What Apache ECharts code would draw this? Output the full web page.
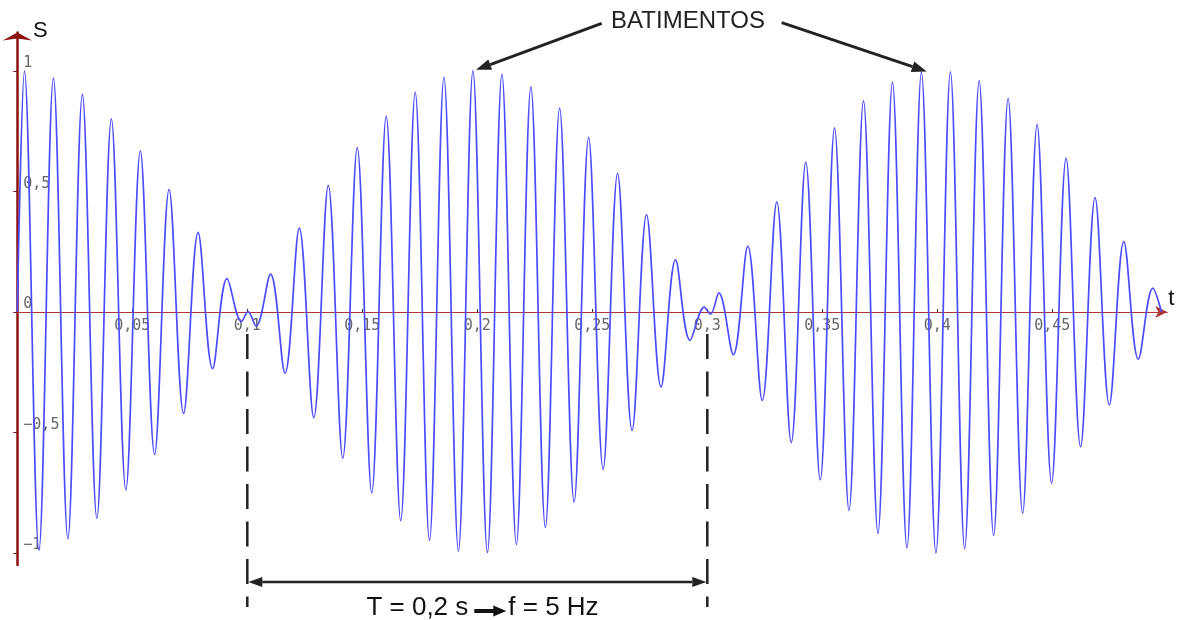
<!DOCTYPE html>
<html><head><meta charset="utf-8">
<script src="https://cdn.jsdelivr.net/npm/echarts@6/dist/echarts.min.js"></script>
<style>html,body{margin:0;padding:0;background:#fff}#c{width:1179px;height:620px}</style>
</head><body><div id="c"></div>
<script>
// extrema of the beat signal (t in s, S)
const times = [0, 0.0031, 0.0094, 0.0157, 0.0220, 0.0283, 0.0346, 0.0409, 0.0472, 0.0535, 0.0597, 0.0660, 0.0723, 0.0786, 0.0849, 0.0912, 0.0975, 0.1003, 0.1038, 0.1101, 0.1164, 0.1226, 0.1289, 0.1352, 0.1415, 0.1478, 0.1541, 0.1604, 0.1667, 0.1730, 0.1792, 0.1855, 0.1918, 0.1981, 0.2044, 0.2107, 0.2170, 0.2233, 0.2296, 0.2358, 0.2421, 0.2484, 0.2547, 0.2610, 0.2673, 0.2736, 0.2799, 0.2862, 0.2925, 0.2987, 0.3014, 0.3050, 0.3113, 0.3176, 0.3239, 0.3302, 0.3365, 0.3428, 0.3491, 0.3553, 0.3616, 0.3679, 0.3742, 0.3805, 0.3868, 0.3931, 0.3994, 0.4057, 0.4119, 0.4182, 0.4245, 0.4308, 0.4371, 0.4434, 0.4497, 0.4560, 0.4623, 0.4686, 0.4748, 0.4811, 0.4874, 0.4937, 0.4975];
const signal = [0, 0.999, -0.989, 0.970, -0.941, 0.903, -0.856, 0.801, -0.738, 0.668, -0.591, 0.509, -0.421, 0.330, -0.235, 0.138, -0.040, 0.001, -0.059, 0.157, -0.254, 0.348, -0.439, 0.525, -0.607, 0.682, -0.751, 0.813, -0.866, 0.911, -0.947, 0.974, -0.992, 1.000, -0.998, 0.986, -0.965, 0.934, -0.894, 0.846, -0.789, 0.724, -0.653, 0.575, -0.492, 0.403, -0.311, 0.216, -0.118, 0.020, -0.009, 0.079, -0.177, 0.273, -0.367, 0.457, -0.542, 0.622, -0.697, 0.764, -0.824, 0.876, -0.919, 0.954, -0.979, 0.994, -1.000, 0.996, -0.982, 0.959, -0.927, 0.885, -0.835, 0.777, -0.711, 0.638, -0.559, 0.474, -0.385, 0.292, -0.196, 0.099, 0];

const xTickValues = [0.05, 0.1, 0.15, 0.2, 0.25, 0.3, 0.35, 0.4, 0.45];
const xTickLabels = ['0,05', '0,1', '0,15', '0,2', '0,25', '0,3', '0,35', '0,4', '0,45'];
const yTickValues = [-1, -0.5, 0, 0.5, 1];
const yTickLabels = ['\u22121', '\u22120,5', '0', '0,5', '1'];

const beatNodes = [0.1, 0.3];
const arrowTargets = [[0.1995, 1.005], [0.3954, 0.998]];
const titleText = 'BATIMENTOS';
const periodText = 'T = 0,2 s';
const freqText = 'f = 5 Hz';
const yName = 'S';
const xName = 't';

function lookup(vals, labels, v) {
  const i = vals.findIndex(x => Math.abs(x - v) < 1e-9);
  return i >= 0 ? labels[i] : '';
}

const chart = echarts.init(document.getElementById('c'), null, {renderer: 'canvas'});
const data = times.map((t, i) => [t, signal[i]]);
const tickFont = {fontFamily: 'DejaVu Sans Mono', fontSize: 15, color: '#676767'};

const Y_MIN = -1.05, Y_MAX = 1.16;
chart.setOption({
  animation: false,
  backgroundColor: '#fff',
  grid: {left: 17.3, right: 11.7, top: 32.4, bottom: 55, containLabel: false, outerBoundsMode: 'none'},
  xAxis: {
    type: 'value', min: 0, max: 0.5,
    splitLine: {show: false},
    axisLine: {onZero: false, lineStyle: {color: '#b03535', width: 1}, symbol: ['none', 'arrow'], symbolSize: [9, 12]},
    axisTick: {customValues: xTickValues, inside: true, length: 3, lineStyle: {color: '#333'}},
    axisLabel: Object.assign({customValues: xTickValues, margin: 7,
      formatter: v => lookup(xTickValues, xTickLabels, v)}, tickFont)
  },
  yAxis: {
    type: 'value', min: Y_MIN, max: Y_MAX,
    splitLine: {show: false},
    axisLine: {onZero: true, lineStyle: {color: '#8b1010', width: 2.5}, symbol: ['none', 'arrow'], symbolSize: [22, 8]},
    axisTick: {customValues: yTickValues, inside: false, length: 4, lineStyle: {color: '#8b1010'}},
    axisLabel: Object.assign({customValues: yTickValues, inside: true, margin: 6, verticalAlign: 'bottom', lineHeight: 15,
      formatter: v => lookup(yTickValues, yTickLabels, v)}, tickFont)
  },
  series: [{
    type: 'line', data: data, showSymbol: false, smooth: 0.36,
    lineStyle: {color: '#4c4cff', width: 1.7}, z: 3
  }]
});

function px(p) { return chart.convertToPixel({gridIndex: 0}, p); }
// move the whole x axis (line, ticks, labels) up to S = 0
const zeroY = px([0, 0])[1];
const bottomY = px([0, Y_MIN])[1];
chart.setOption({xAxis: {offset: zeroY - bottomY}});

function head(tip, from, len, half) {
  const dx = tip[0] - from[0], dy = tip[1] - from[1];
  const L = Math.hypot(dx, dy), ux = dx / L, uy = dy / L;
  const bx = tip[0] - ux * len, by = tip[1] - uy * len;
  return {base: [bx, by], pts: [[tip[0], tip[1]], [bx - uy * half, by + ux * half], [bx + uy * half, by - ux * half]]};
}
const ink = '#222';
const g = [];
// title + arrows
g.push({type: 'text', style: {text: titleText, x: 688, y: 21, align: 'center', verticalAlign: 'middle',
  font: '24px "Liberation Sans", Arial, sans-serif', fill: ink}});
const starts = [[601.7, 23.3], [781.7, 22.7]];
arrowTargets.forEach((a, i) => {
  const tip = px(a);
  const h = head(tip, starts[i], 15, 5.5);
  g.push({type: 'line', shape: {x1: starts[i][0], y1: starts[i][1], x2: h.base[0], y2: h.base[1]}, style: {stroke: ink, lineWidth: 3}});
  g.push({type: 'polygon', shape: {points: h.pts}, style: {fill: ink}});
});
// axis names
g.push({type: 'text', style: {text: yName, x: 33, y: 31, align: 'left', verticalAlign: 'middle',
  font: '22px "Liberation Sans", Arial, sans-serif', fill: '#111'}});
const xEnd = px([0.5, 0]);
g.push({type: 'text', style: {text: xName, x: xEnd[0] + 1, y: xEnd[1] - 13, align: 'left', verticalAlign: 'middle',
  font: '22px "Liberation Sans", Arial, sans-serif', fill: '#111'}});
// beat period markers
const nx = beatNodes.map(t => px([t, 0])[0]);
nx.forEach(x => {
  g.push({type: 'line', shape: {x1: x, y1: 334, x2: x, y2: 607}, style: {stroke: ink, lineWidth: 2.5, lineDash: [25, 12.5]}});
});
const ay = 582;
const hl = head([nx[0] + 1, ay], [nx[1], ay], 14, 5);
const hr = head([nx[1] - 1, ay], [nx[0], ay], 14, 5);
g.push({type: 'line', shape: {x1: hl.base[0], y1: ay, x2: hr.base[0], y2: ay}, style: {stroke: ink, lineWidth: 2.5}});
g.push({type: 'polygon', shape: {points: hl.pts}, style: {fill: ink}});
g.push({type: 'polygon', shape: {points: hr.pts}, style: {fill: ink}});
const mid = (nx[0] + nx[1]) / 2;
g.push({type: 'text', style: {text: periodText, x: mid - 9, y: 608, align: 'right', verticalAlign: 'middle',
  font: '26px "Liberation Sans", Arial, sans-serif', fill: '#111'}});
g.push({type: 'line', shape: {x1: mid - 3, y1: 611, x2: mid + 18, y2: 611}, style: {stroke: '#111', lineWidth: 4}});
g.push({type: 'polygon', shape: {points: [[mid + 29, 611], [mid + 16, 605.5], [mid + 16, 616.5]]}, style: {fill: '#111'}});
g.push({type: 'text', style: {text: freqText, x: mid + 31, y: 608, align: 'left', verticalAlign: 'middle',
  font: '26px "Liberation Sans", Arial, sans-serif', fill: '#111'}});
chart.setOption({graphic: g});
</script>
</body></html>
